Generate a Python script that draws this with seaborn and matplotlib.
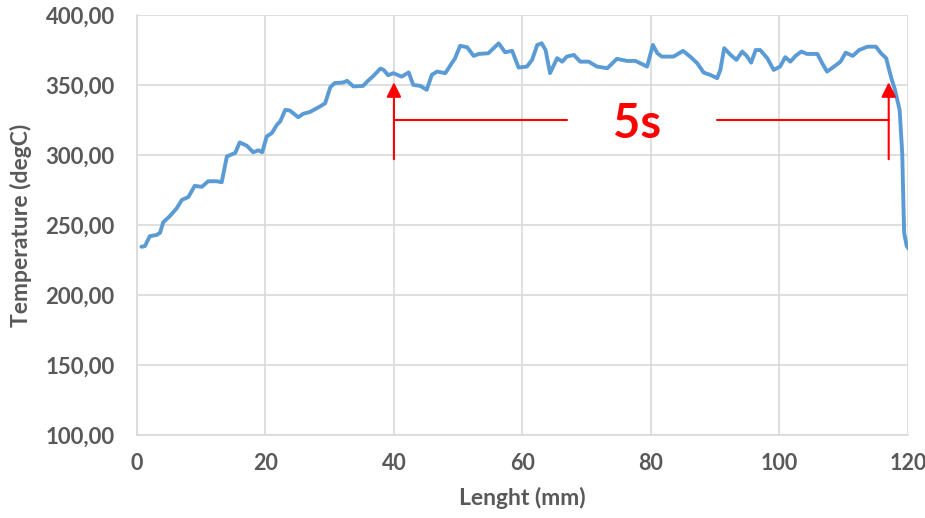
import matplotlib
matplotlib.use("Agg")
import matplotlib.pyplot as plt
import seaborn as sns
import pandas as pd

length_mm = [0.7, 1.25, 2.0, 3.1, 3.6, 4.1, 5.1, 6.2, 7.0, 8.0, 9.0, 10.1, 11.1, 12.4, 13.2,
             14.0, 15.3, 16.0, 17.1, 18.1, 18.9, 19.5, 20.2, 21.0, 21.8, 22.3, 23.1, 23.8,
             25.1, 25.9, 26.9, 28.5, 29.3, 30.1, 30.8, 32.1, 32.7, 33.7, 35.2, 36.0, 36.8,
             37.9, 38.4, 39.1, 39.9, 41.2, 42.3, 43.0, 44.1, 45.1, 45.9, 46.7, 48.0, 49.0,
             49.5, 50.3, 51.4, 52.4, 53.2, 54.7, 55.5, 56.3, 57.3, 58.4, 59.4, 60.7, 61.5,
             62.3, 63.0, 63.6, 64.3, 65.4, 66.2, 66.9, 68.0, 69.0, 70.3, 71.6, 73.2, 74.7,
             76.3, 77.6, 79.4, 80.3, 81.0, 81.7, 83.5, 85.0, 86.1, 87.2, 88.2, 89.2, 90.3,
             90.8, 91.4, 92.4, 93.3, 94.2, 94.9, 95.6, 96.3, 97.0, 98.1, 99.1, 100.1, 100.9,
             101.7, 102.5, 103.4, 104.3, 105.9, 106.6, 107.4, 108.5, 109.5, 110.3, 111.4,
             112.4, 113.7, 115.0, 115.8, 116.6, 117.4, 117.9, 118.7, 119.1, 119.4, 119.8, 120.3]
temperature = [234.5, 235.0, 242.0, 243.0, 244.5, 252.0, 256.3, 262.0, 268.0, 270.0, 278.0,
               277.3, 281.3, 281.3, 280.6, 299.0, 301.5, 309.0, 306.7, 302.0, 303.4, 302.0,
               313.3, 315.7, 321.7, 324.0, 332.3, 331.8, 327.0, 329.5, 330.7, 334.7, 337.0,
               348.5, 351.4, 351.8, 353.0, 349.0, 349.4, 353.2, 356.5, 361.8, 360.8, 357.0,
               358.5, 356.0, 359.0, 350.1, 349.4, 346.6, 357.3, 359.6, 358.5, 365.6, 369.0,
               378.0, 377.0, 370.8, 372.2, 372.7, 376.3, 379.8, 373.4, 374.4, 362.5, 363.2,
               368.0, 378.6, 379.8, 375.0, 358.5, 369.2, 366.7, 370.3, 371.5, 366.7, 366.7,
               363.2, 362.0, 368.7, 367.2, 367.2, 363.2, 378.6, 372.7, 370.3, 370.3, 374.4,
               370.3, 365.6, 358.9, 357.3, 354.9, 360.8, 376.3, 371.5, 368.0, 373.9, 370.8,
               366.0, 375.0, 375.0, 369.2, 360.8, 363.2, 369.9, 366.7, 370.8, 373.9, 372.2,
               372.2, 366.0, 359.6, 363.2, 366.7, 373.1, 370.8, 375.0, 377.4, 377.4, 372.7,
               369.2, 355.0, 347.8, 332.3, 301.5, 244.5, 235.0, 232.1]

x_ticks = [0, 20, 40, 60, 80, 100, 120]
y_ticks = [100, 150, 200, 250, 300, 350, 400]
y_tick_labels = ["100,00", "150,00", "200,00", "250,00", "300,00", "350,00", "400,00"]

df = pd.DataFrame({"Lenght (mm)": length_mm, "Temperature (degC)": temperature})

sns.set_theme(style="whitegrid")
plt.rcParams["font.family"] = ["Lato", "DejaVu Sans"]

fig = plt.figure(figsize=(9.25, 5.18), dpi=100)
ax = fig.add_axes([0.148, 0.160, 0.9816 - 0.148, 0.971 - 0.160])

sns.lineplot(data=df, x="Lenght (mm)", y="Temperature (degC)", ax=ax,
             color="#5B9BD5", linewidth=2.8, sort=False,
             solid_joinstyle="round", solid_capstyle="round")

ax.set_xlim(0, 120)
ax.set_ylim(100, 400)
ax.set_xticks(x_ticks)
ax.set_yticks(y_ticks)
ax.set_yticklabels(y_tick_labels)

gray = "#595959"
ax.tick_params(axis="y", labelsize=16, colors=gray, length=0, pad=16)
ax.tick_params(axis="x", labelsize=15.5, colors=gray, length=0, pad=13)
for lbl in ax.get_xticklabels() + ax.get_yticklabels():
    lbl.set_fontweight("bold")
ax.set_xlabel("Lenght (mm)", fontsize=16.5, fontweight="bold", color=gray, labelpad=9)
ax.set_ylabel("Temperature (degC)", fontsize=16.5, fontweight="bold", color=gray, labelpad=10)

ax.grid(True, color="#d9d9d9", linewidth=1.2)
for s in ["top", "right"]:
    ax.spines[s].set_visible(False)
for s in ["left", "bottom"]:
    ax.spines[s].set_color("#d9d9d9")
    ax.spines[s].set_linewidth(1.2)

red = "#ff0000"
for xa in [40, 117]:
    ax.annotate("", xy=(xa, 352), xytext=(xa, 297),
                arrowprops=dict(arrowstyle="-|>", color=red, lw=1.5,
                                mutation_scale=22, shrinkA=0, shrinkB=0))
ax.plot([40, 67], [325, 325], color=red, lw=1.5)
ax.plot([90.3, 117], [325, 325], color=red, lw=1.5)
ax.text(77.8, 322.5, "5s", color=red, fontsize=34, fontweight="bold",
        ha="center", va="center")

fig.savefig("out.png", dpi=100)
